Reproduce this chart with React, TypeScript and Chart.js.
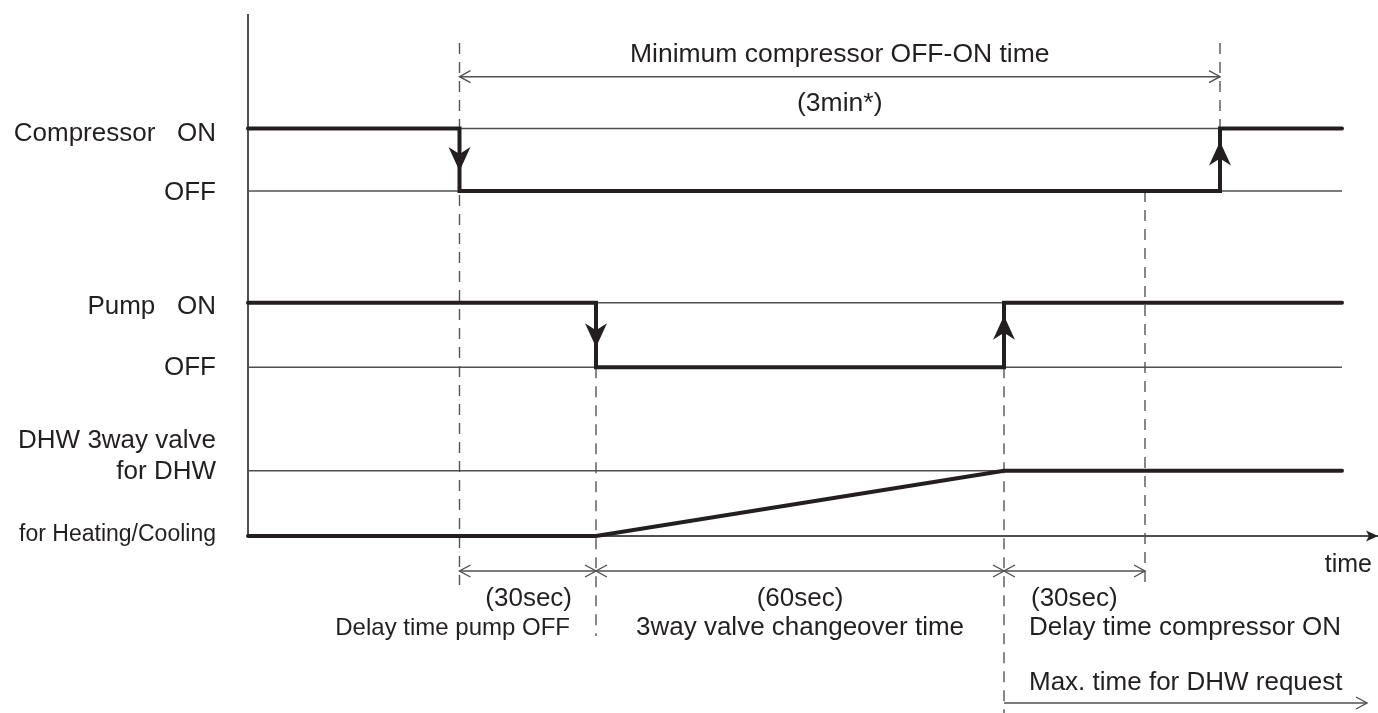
import React, { useEffect, useRef } from 'react';
import { Chart, registerables } from 'chart.js';

Chart.register(...registerables);

// ---- time marks (abstract units along the time axis) ----
const T_START = 0;
const T_COMP_OFF = 21.15;
const T_PUMP_OFF = 34.8;
const T_PUMP_ON = 75.6;
const T_DELAY_END = 89.7;
const T_COMP_ON = 97.2;
const T_SIGNAL_END = 109.4;
const T_MAX_END = 111.9;
const T_AXIS_END = 112.9;

// ---- signal levels ----
const COMP_ON = 40.75;
const COMP_OFF = 34.5;
const PUMP_ON = 23.33;
const PUMP_OFF = 16.87;
const VALVE_DHW = 6.53;
const VALVE_HEAT = 0;
const Y_MIN = 0;
const Y_MAX = 52.1;

// ---- signal series ----
const compressorTimes = [T_START, T_COMP_OFF, T_COMP_OFF, T_COMP_ON, T_COMP_ON, T_SIGNAL_END];
const compressorValues = [COMP_ON, COMP_ON, COMP_OFF, COMP_OFF, COMP_ON, COMP_ON];
const pumpTimes = [T_START, T_PUMP_OFF, T_PUMP_OFF, T_PUMP_ON, T_PUMP_ON, T_SIGNAL_END];
const pumpValues = [PUMP_ON, PUMP_ON, PUMP_OFF, PUMP_OFF, PUMP_ON, PUMP_ON];
const valveTimes = [T_START, T_PUMP_OFF, T_PUMP_ON, T_SIGNAL_END];
const valveValues = [VALVE_HEAT, VALVE_HEAT, VALVE_DHW, VALVE_DHW];

const referenceLevels = [COMP_ON, COMP_OFF, PUMP_ON, PUMP_OFF, VALVE_DHW, VALVE_HEAT];

// ---- y tick labels ----
const yTickValues = [40.25, 34.33, 22.92, 16.82, 9.48, 6.42, 0.18];
const yTickLabels = [
  'Compressor   ON',
  'OFF',
  'Pump   ON',
  'OFF',
  'DHW 3way valve',
  'for DHW',
  'for Heating/Cooling',
];

// ---- dashed guide lines ----
const GUIDE_TOP = 49.3;
const guideTimes = [T_COMP_OFF, T_PUMP_OFF, T_PUMP_ON, T_DELAY_END, T_COMP_ON];
const guideTops = [GUIDE_TOP, PUMP_OFF, PUMP_OFF, COMP_OFF, GUIDE_TOP];
const guideBottoms = [-4.9, -10.0, -17.7, -4.9, COMP_ON];

// ---- dimension arrows ----
const DIM_TOP = 45.93;
const DIM_BOTTOM = -3.5;
const DIM_MAX = -16.7;
const dimStarts = [T_COMP_OFF, T_COMP_OFF, T_PUMP_OFF, T_PUMP_ON, T_PUMP_ON];
const dimEnds = [T_COMP_ON, T_PUMP_OFF, T_PUMP_ON, T_DELAY_END, T_MAX_END];
const dimLevels = [DIM_TOP, DIM_BOTTOM, DIM_BOTTOM, DIM_BOTTOM, DIM_MAX];
const dimBothHeads = [true, true, true, true, false];

// ---- transitions with filled arrowheads ----
const transitionTimes = [T_COMP_OFF, T_PUMP_OFF, T_PUMP_ON, T_COMP_ON];
const transitionFrom = [COMP_ON, PUMP_ON, PUMP_OFF, COMP_OFF];
const transitionTo = [COMP_OFF, PUMP_OFF, PUMP_ON, COMP_ON];

// ---- annotation texts ----
const titleText = 'Minimum compressor OFF-ON time';
const titleSubText = '(3min*)';
const pumpDelayValue = '(30sec)';
const pumpDelayText = 'Delay time pump OFF';
const valveValue = '(60sec)';
const valveText = '3way valve changeover time';
const compDelayValue = '(30sec)';
const compDelayText = 'Delay time compressor ON';
const maxText = 'Max. time for DHW request';
const axisText = 'time';

const INK = '#231f20';
const THIN = '#505050';
const FONT = '"Liberation Sans", Arial, Helvetica, sans-serif';

const pts = (xs: number[], ys: number[]) => xs.map((x, i) => ({ x, y: ys[i] }));

const overlayPlugin = {
  id: 'overlay',
  afterDraw(chart: any) {
    const { ctx, scales, chartArea } = chart;
    const X = (v: number) => scales.x.getPixelForValue(v);
    const Y = (v: number) => scales.y.getPixelForValue(v);
    ctx.save();

    // filled arrowheads on transitions
    ctx.fillStyle = INK;
    transitionTimes.forEach((t, i) => {
      const down = transitionTo[i] < transitionFrom[i];
      const px = X(t);
      const tip = down ? Y(transitionTo[i]) - 20 : Y(transitionTo[i]) + 13;
      const s = down ? -1 : 1;
      ctx.beginPath();
      ctx.moveTo(px, tip);
      ctx.lineTo(px - 11, tip + s * 24);
      ctx.lineTo(px, tip + s * 17);
      ctx.lineTo(px + 11, tip + s * 24);
      ctx.closePath();
      ctx.fill();
    });

    // time axis arrowhead
    const ay = Y(VALVE_HEAT);
    const ax = X(T_AXIS_END) + 1;
    ctx.beginPath();
    ctx.moveTo(ax, ay);
    ctx.lineTo(ax - 12, ay - 5.5);
    ctx.lineTo(ax - 9, ay);
    ctx.lineTo(ax - 12, ay + 5.5);
    ctx.closePath();
    ctx.fill();

    // open arrowheads on dimension lines
    ctx.strokeStyle = THIN;
    ctx.lineWidth = 1.4;
    const head = (px: number, py: number, dir: number) => {
      ctx.beginPath();
      ctx.moveTo(px - dir * 11, py - 6);
      ctx.lineTo(px, py);
      ctx.lineTo(px - dir * 11, py + 6);
      ctx.stroke();
    };
    dimStarts.forEach((s, i) => {
      const py = Y(dimLevels[i]);
      if (dimBothHeads[i]) head(X(s), py, -1);
      head(X(dimEnds[i]), py, 1);
    });

    // texts
    ctx.fillStyle = INK;
    ctx.textBaseline = 'alphabetic';
    const txt = (s: string, px: number, py: number, align: CanvasTextAlign, size: number) => {
      ctx.font = `${size}px ${FONT}`;
      ctx.textAlign = align;
      ctx.fillText(s, px, py);
    };
    const topMid = (X(T_COMP_OFF) + X(T_COMP_ON)) / 2;
    txt(titleText, topMid, Y(DIM_TOP) - 14.5, 'center', 26.5);
    txt(titleSubText, topMid, Y(DIM_TOP) + 34.5, 'center', 26.5);

    const by = Y(DIM_BOTTOM);
    txt(pumpDelayValue, X(T_PUMP_OFF) - 24, by + 35, 'right', 26);
    txt(pumpDelayText, X(T_PUMP_OFF) - 26, by + 64, 'right', 24);
    const midValve = (X(T_PUMP_OFF) + X(T_PUMP_ON)) / 2;
    txt(valveValue, midValve, by + 35, 'center', 26);
    txt(valveText, midValve, by + 64, 'center', 26);
    txt(compDelayValue, X(T_PUMP_ON) + 27, by + 35, 'left', 26);
    txt(compDelayText, X(T_PUMP_ON) + 25, by + 64, 'left', 26);
    txt(maxText, X(T_PUMP_ON) + 25, Y(DIM_MAX) - 13, 'left', 26);
    txt(axisText, chartArea.right - 5, ay + 36, 'right', 25);

    ctx.restore();
  },
};

export default function App() {
  const canvasRef = useRef<HTMLCanvasElement | null>(null);

  useEffect(() => {
    if (!canvasRef.current) return;
    const line = (data: any[], color: string, width: number, order: number, extra: any = {}) => ({
      data,
      showLine: true,
      borderColor: color,
      backgroundColor: color,
      borderWidth: width,
      pointRadius: 0,
      pointHoverRadius: 0,
      tension: 0,
      fill: false,
      clip: false,
      order,
      ...extra,
    });

    const datasets: any[] = [];
    // thick signals
    datasets.push(line(pts(compressorTimes, compressorValues), INK, 4, 0, { borderJoinStyle: 'miter', borderCapStyle: 'round' }));
    datasets.push(line(pts(pumpTimes, pumpValues), INK, 4, 0, { borderJoinStyle: 'miter', borderCapStyle: 'round' }));
    datasets.push(line(pts(valveTimes, valveValues), INK, 4, 0, { borderJoinStyle: 'miter', borderCapStyle: 'round' }));
    // reference levels
    referenceLevels.forEach((lv) => {
      datasets.push(line(pts([T_START, T_SIGNAL_END], [lv, lv]), THIN, 1.4, 1));
    });
    // dimension lines
    dimStarts.forEach((s, i) => {
      datasets.push(line(pts([s, dimEnds[i]], [dimLevels[i], dimLevels[i]]), THIN, 1.4, 1));
    });
    // dashed guides
    guideTimes.forEach((t, i) => {
      datasets.push(line(pts([t, t], [guideTops[i], guideBottoms[i]]), '#555555', 1.4, 2, { borderDash: [11, 8] }));
    });

    const chart = new Chart(canvasRef.current, {
      type: 'scatter',
      data: { datasets },
      plugins: [overlayPlugin],
      options: {
        animation: false,
        responsive: true,
        maintainAspectRatio: false,
        events: [],
        layout: { padding: { top: 15, bottom: 177, left: 0, right: 1 } },
        plugins: { legend: { display: false }, tooltip: { enabled: false } },
        scales: {
          x: {
            type: 'linear',
            min: T_START,
            max: T_AXIS_END,
            display: true,
            grid: { display: false, drawTicks: false },
            ticks: { display: false },
            border: { display: true, color: THIN, width: 2 },
            afterFit: (scale: any) => {
              scale.height = 0;
              scale.paddingLeft = 0;
              scale.paddingRight = 0;
              scale.paddingTop = 0;
              scale.paddingBottom = 0;
            },
          },
          y: {
            type: 'linear',
            min: Y_MIN,
            max: Y_MAX,
            grid: { display: false, drawTicks: false },
            border: { display: true, color: THIN, width: 2 },
            afterBuildTicks: (scale: any) => {
              scale.ticks = yTickValues.map((v) => ({ value: v }));
            },
            afterFit: (scale: any) => {
              scale.width = 248;
              scale.paddingTop = 0;
              scale.paddingBottom = 0;
              scale.paddingLeft = 0;
              scale.paddingRight = 0;
            },
            ticks: {
              autoSkip: false,
              padding: 32,
              color: INK,
              font: (c: any) => ({ family: FONT, size: c.index === 6 ? 23 : 26 }),
              callback: (_v: any, i: number) => yTickLabels[i],
            },
          },
        },
      },
    });
    return () => chart.destroy();
  }, []);

  return (
    <div style={{ position: 'fixed', left: 0, top: 0, width: 1378, height: 713, background: '#ffffff' }}>
      <canvas ref={canvasRef} />
    </div>
  );
}
